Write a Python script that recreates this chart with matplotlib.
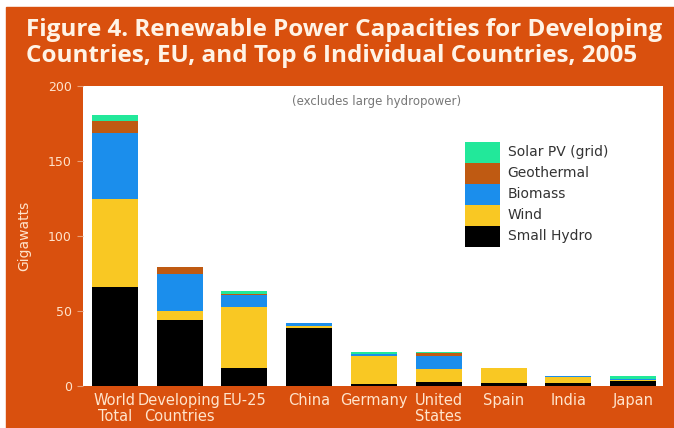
import matplotlib.pyplot as plt
from matplotlib.patches import Rectangle
import numpy as np

# Renewable capacity in GW, 2005
countries = ["World\nTotal", "Developing\nCountries", "EU-25", "China", "Germany",
             "United\nStates", "Spain", "India", "Japan"]
small_hydro = [66, 44, 12, 38.5, 1.6, 3.0, 1.8, 1.7, 3.5]
wind = [59, 6, 41, 1.3, 18.4, 8.5, 10, 4.4, 0.3]
biomass = [44, 25, 7.5, 2.0, 1.2, 8.5, 0.5, 0.6, 0.7]
geothermal = [8, 4.5, 0.8, 0, 0, 2.3, 0, 0, 0.5]
solar_pv = [4, 0, 1.8, 0.1, 1.5, 0.1, 0, 0, 1.5]

series = [("Small Hydro", small_hydro, "#000000"),
          ("Wind", wind, "#F9C823"),
          ("Biomass", biomass, "#1B8EEC"),
          ("Geothermal", geothermal, "#BF5A12"),
          ("Solar PV (grid)", solar_pv, "#22E89A")]

orange = "#D9500E"
cream = "#FFE4CC"
narrow = ["Liberation Sans Narrow", "DejaVu Sans"]

fig = plt.figure(figsize=(6.74, 4.28), dpi=100)
fig.patches.append(Rectangle((6 / 674, 0), 1, 1 - 7 / 428, transform=fig.transFigure,
                             color=orange, zorder=-1))

title_kw = dict(color="#FFF3E6", fontsize=17.5, fontweight="bold", family="Open Sans",
                va="center", ha="left")
fig.text(26 / 674, 1 - 30 / 428, "Figure 4. Renewable Power Capacities for Developing",
         **title_kw)
fig.text(26 / 674, 1 - 56 / 428, "Countries, EU, and Top 6 Individual Countries, 2005",
         **title_kw)

ax = fig.add_axes([83 / 674, 42 / 428, 580 / 674, 300 / 428])
ax.set_facecolor("white")

x = np.arange(len(countries))
bottom = np.zeros(len(countries))
for name, vals, col in series:
    ax.bar(x, vals, width=0.71, bottom=bottom, color=col, label=name, linewidth=0)
    bottom += np.array(vals)

ax.set_xlim(-0.49, 8.46)
ax.set_ylim(0, 200)
ax.set_yticks([0, 50, 100, 150, 200])
ax.set_xticks(x)
ax.set_xticklabels(countries, family=narrow, fontsize=10.5, color=cream, linespacing=1.1)
for lbl in ax.get_yticklabels():
    lbl.set_family(narrow)
    lbl.set_fontsize(9)
    lbl.set_color(cream)
ax.tick_params(axis="y", length=4, color="#E8A07A", pad=4)
ax.tick_params(axis="x", length=0, pad=5)
for s in ax.spines.values():
    s.set_visible(False)

ax.set_ylabel("Gigawatts", family=narrow, fontsize=10, color=cream, labelpad=12)

ax.text(0.507, 0.95, "(excludes large hydropower)", transform=ax.transAxes,
        ha="center", va="center", fontsize=8.5, color="#777777", family=narrow)

handles, labels = ax.get_legend_handles_labels()
leg = ax.legend(handles[::-1], labels[::-1], loc="upper left",
                bbox_to_anchor=(0.658, 0.815), frameon=False,
                prop={"family": narrow, "size": 10},
                handlelength=2.55, handleheight=1.95, labelspacing=0,
                handletextpad=0.55, borderpad=0, borderaxespad=0)
for t in leg.get_texts():
    t.set_color("#333333")

fig.savefig("out.png", dpi=100)
